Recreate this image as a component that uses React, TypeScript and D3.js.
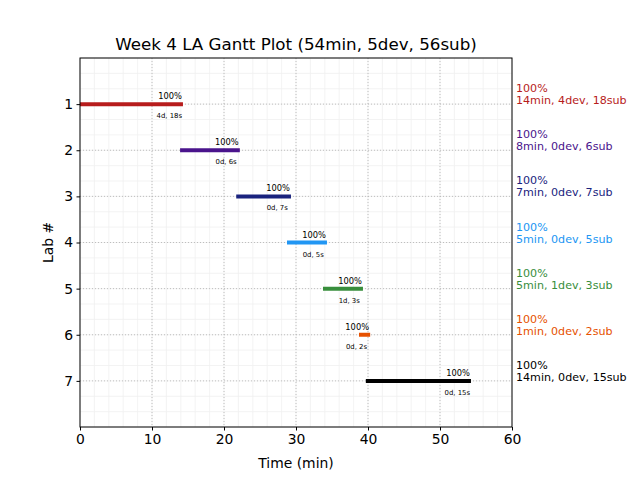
import { useEffect, useRef } from "react";
import * as d3 from "d3";

// Gantt data
const labs = [1, 2, 3, 4, 5, 6, 7];
const starts = [0, 13.9, 21.7, 28.75, 33.75, 38.75, 39.7];
const ends = [14.3, 22.2, 29.3, 34.3, 39.3, 40.3, 54.3];
const percents = ["100%", "100%", "100%", "100%", "100%", "100%", "100%"];
const barNotes = ["4d, 18s", "0d, 6s", "0d, 7s", "0d, 5s", "1d, 3s", "0d, 2s", "0d, 15s"];
const sideNotes = [
  "14min, 4dev, 18sub",
  "8min, 0dev, 6sub",
  "7min, 0dev, 7sub",
  "5min, 0dev, 5sub",
  "5min, 1dev, 3sub",
  "1min, 0dev, 2sub",
  "14min, 0dev, 15sub",
];
const colors = ["#b71c1c", "#4a148c", "#1a237e", "#2196f3", "#388e3c", "#e65100", "#000000"];
const xTicks = [0, 10, 20, 30, 40, 50, 60];
const title = "Week 4 LA Gantt Plot (54min, 5dev, 56sub)";

const W = 640;
const H = 480;
const FONT = "DejaVu Sans, sans-serif";

export default function App() {
  const svgRef = useRef<SVGSVGElement>(null);

  useEffect(() => {
    if (!svgRef.current) return;
    const svg = d3.select(svgRef.current);
    svg.selectAll("*").remove();

    const margin = { top: 58, right: 128, bottom: 53, left: 80 };
    const innerWidth = W - margin.left - margin.right;
    const innerHeight = H - margin.top - margin.bottom;

    const x = d3.scaleLinear().domain([0, 60]).range([0, innerWidth]);
    const y = d3.scaleLinear().domain([0, 8]).range([0, innerHeight]);

    svg.append("rect").attr("width", W).attr("height", H).attr("fill", "#fff");

    const g = svg.append("g").attr("transform", `translate(${margin.left},${margin.top})`);

    // minor grid
    const minorX = d3.range(0, 60.01, 2);
    const minorY = d3.range(0, 8.01, 1 / 3);
    g.selectAll(".mx")
      .data(minorX)
      .join("line")
      .attr("x1", d => x(d))
      .attr("x2", d => x(d))
      .attr("y1", 0)
      .attr("y2", innerHeight)
      .attr("stroke", "#f0f0f0")
      .attr("stroke-width", 0.8);
    g.selectAll(".my")
      .data(minorY)
      .join("line")
      .attr("x1", 0)
      .attr("x2", innerWidth)
      .attr("y1", d => y(d))
      .attr("y2", d => y(d))
      .attr("stroke", "#f0f0f0")
      .attr("stroke-width", 0.8);

    // major grid (dotted)
    g.selectAll(".gx")
      .data(xTicks.slice(1, -1))
      .join("line")
      .attr("x1", d => x(d))
      .attr("x2", d => x(d))
      .attr("y1", 0)
      .attr("y2", innerHeight)
      .attr("stroke", "#b0b0b0")
      .attr("stroke-width", 0.8)
      .attr("stroke-dasharray", "1,2");
    g.selectAll(".gy")
      .data(labs)
      .join("line")
      .attr("x1", 0)
      .attr("x2", innerWidth)
      .attr("y1", d => y(d))
      .attr("y2", d => y(d))
      .attr("stroke", "#b0b0b0")
      .attr("stroke-width", 0.8)
      .attr("stroke-dasharray", "1,2");

    // bars
    labs.forEach((lab, i) => {
      g.append("line")
        .attr("x1", x(starts[i]))
        .attr("x2", x(ends[i]))
        .attr("y1", y(lab))
        .attr("y2", y(lab))
        .attr("stroke", colors[i])
        .attr("stroke-width", 4);

      g.append("text")
        .attr("x", x(ends[i] - 1.8))
        .attr("y", y(lab) - 5)
        .attr("text-anchor", "middle")
        .attr("font-family", FONT)
        .attr("font-size", "8.3px")
        .attr("fill", "#000")
        .text(percents[i]);

      g.append("text")
        .attr("x", x(ends[i] - 1.9))
        .attr("y", y(lab) + 14)
        .attr("text-anchor", "middle")
        .attr("font-family", FONT)
        .attr("font-size", "6.9px")
        .attr("fill", "#000")
        .text(barNotes[i]);

      // side notes right of the plot
      g.append("text")
        .attr("x", innerWidth + 4)
        .attr("y", y(lab) - 12)
        .attr("font-family", FONT)
        .attr("font-size", "11.1px")
        .attr("fill", colors[i])
        .text(percents[i]);
      g.append("text")
        .attr("x", innerWidth + 4)
        .attr("y", y(lab))
        .attr("font-family", FONT)
        .attr("font-size", "11.1px")
        .attr("fill", colors[i])
        .text(sideNotes[i]);
    });

    // frame
    g.append("rect")
      .attr("width", innerWidth)
      .attr("height", innerHeight)
      .attr("fill", "none")
      .attr("stroke", "#000")
      .attr("stroke-width", 1);

    // axes
    const xAxis = g.append("g")
      .attr("transform", `translate(0,${innerHeight})`)
      .call(d3.axisBottom(x).tickValues(xTicks).tickSize(3.5).tickPadding(3.5));
    xAxis.select(".domain").remove();
    xAxis.selectAll("text")
      .attr("font-family", FONT)
      .attr("font-size", "13.9px")
      .attr("fill", "#000");

    const yAxis = g.append("g")
      .call(d3.axisLeft(y).tickValues(labs).tickSize(3.5).tickPadding(3.5));
    yAxis.select(".domain").remove();
    yAxis.selectAll("text")
      .attr("font-family", FONT)
      .attr("font-size", "13.9px")
      .attr("fill", "#000");

    g.append("text")
      .attr("x", innerWidth / 2)
      .attr("y", innerHeight + 41)
      .attr("text-anchor", "middle")
      .attr("font-family", FONT)
      .attr("font-size", "13.9px")
      .text("Time (min)");

    g.append("text")
      .attr("transform", "rotate(-90)")
      .attr("x", -innerHeight / 2)
      .attr("y", -27)
      .attr("text-anchor", "middle")
      .attr("font-family", FONT)
      .attr("font-size", "13.9px")
      .text("Lab #");

    g.append("text")
      .attr("x", innerWidth / 2)
      .attr("y", -8)
      .attr("text-anchor", "middle")
      .attr("font-family", FONT)
      .attr("font-size", "16.7px")
      .text(title);
  }, []);

  return (
    <svg
      ref={svgRef}
      width={W}
      height={H}
      style={{ position: "absolute", left: 0, top: 0, display: "block" }}
    />
  );
}
